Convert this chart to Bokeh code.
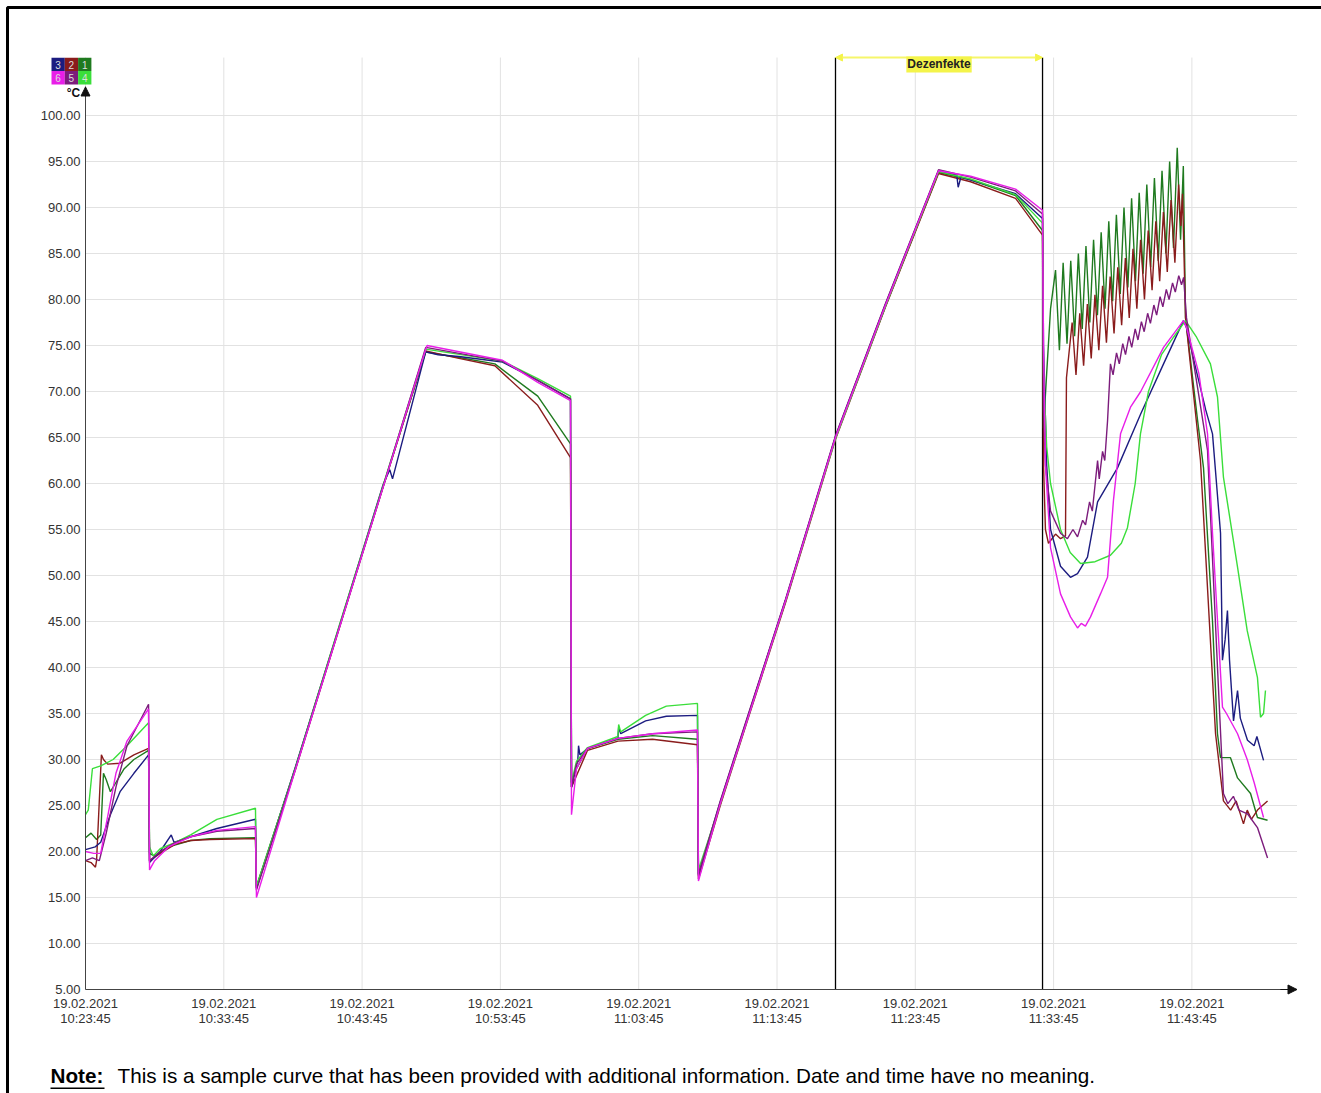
from bokeh.plotting import figure
from bokeh.models import (Range1d, FixedTicker, PrintfTickFormatter, Label,
                          BoxAnnotation, Arrow, NormalHead)
from bokeh.embed import file_html
from bokeh.resources import INLINE

# ---------------- data (x = minutes after 19.02.2021 10:23:45, y = °C) ----------------
x_ticks = [0, 10, 20, 30, 40, 50, 60, 70, 80]
x_tick_labels = ["19.02.2021\n10:23:45", "19.02.2021\n10:33:45", "19.02.2021\n10:43:45",
                 "19.02.2021\n10:53:45", "19.02.2021\n11:03:45", "19.02.2021\n11:13:45",
                 "19.02.2021\n11:23:45", "19.02.2021\n11:33:45", "19.02.2021\n11:43:45"]
y_ticks = [5, 10, 15, 20, 25, 30, 35, 40, 45, 50, 55, 60, 65, 70, 75, 80, 85, 90, 95, 100]

marker_start = 54.23
marker_end = 69.20
marker_text = "Dezenfekte"

channel_names = ["1", "2", "3", "4", "5", "6"]
channel_colors = ["#1f7a1f", "#8a1c1c", "#1c1c80", "#3ade3a", "#7c1c7c", "#e81ee8"]

ch1_t = [0, 0.4, 0.8, 1.1, 1.3, 1.5, 1.8, 2.2, 2.8, 3.5, 4.56, 4.63, 5.0, 6.0, 7.6, 9.0, 12.29, 12.36,
         15.2, 18.5, 21.5, 24.6, 27.0, 29.6, 32.7, 35.07, 35.14, 35.5, 36.3, 38.5, 41.0, 44.25, 44.32,
         45.9, 47.9, 50.61, 54.23, 57.85, 61.68, 64.0, 67.25, 69.2, 69.27, 69.5, 69.78,
         70.14, 70.42, 70.69, 70.97, 71.24, 71.52, 71.79, 72.07, 72.34, 72.62, 72.89, 73.17, 73.44,
         73.72, 73.99, 74.27, 74.54, 74.82, 75.09, 75.37, 75.64, 75.92, 76.19, 76.47, 76.74, 77.02,
         77.29, 77.57, 77.84, 78.12, 78.39, 78.67, 78.94, 79.18, 79.38,
         79.54, 80.4, 80.84, 81.49, 81.85, 82.07, 82.79, 83.3, 84.24, 84.74, 85.47]
ch1_v = [21.5, 22, 21.3, 21.8, 28.5, 27.8, 26.5, 27.5, 29, 30, 31.0, 19.8, 19.5, 20.5, 21.2, 21.4, 21.5, 16.2,
         29.2, 45.1, 59.6, 74.3, 73.7, 73.0, 69.5, 64.3, 27.5, 29, 31.2, 32.2, 32.6, 32.2, 17.3,
         25.2, 34.6, 47.2, 65.0, 79.3, 93.8, 93.0, 91.3, 87.5, 66, 72, 79,
         83.2, 74.5, 84.0, 75.2, 84.2, 76.0, 85.0, 76.8, 85.8, 77.5, 86.5, 78.3, 87.3,
         79.0, 88.5, 79.8, 89.2, 80.6, 90.0, 81.3, 91.0, 82.0, 91.6, 82.8, 92.5, 83.5,
         93.2, 84.2, 94.0, 85.0, 95.0, 85.6, 96.5, 86.5, 94.5,
         78, 67, 61.7, 45, 32.8, 30.2, 30.2, 28, 26.3, 23.7, 23.4]

ch2_t = [0, 0.4, 0.72, 0.8, 1.15, 1.3, 1.6, 2.5, 3.5, 4.56, 4.63, 5.4, 6.5, 7.6, 9.0, 12.29, 12.36,
         15.2, 18.5, 21.5, 24.6, 27.0, 29.6, 32.7, 35.07, 35.14, 36.3, 38.5, 41.0, 44.25, 44.32,
         45.9, 47.9, 50.61, 54.23, 57.85, 61.68, 64.0, 67.25, 69.2, 69.27, 69.41, 69.63, 70.14, 70.5,
         70.86, 70.93,
         71.34, 71.62, 71.89, 72.17, 72.44, 72.72, 72.99, 73.27, 73.54, 73.82, 74.09, 74.37, 74.64,
         74.92, 75.19, 75.47, 75.74, 76.02, 76.29, 76.57, 76.84, 77.12, 77.39, 77.67, 77.94, 78.22,
         78.49, 78.77, 79.04, 79.2, 79.32,
         79.54, 80.62, 81.71, 82.28, 82.8, 83.2, 83.73, 84.0, 84.3, 84.74, 85.47]
ch2_v = [19, 18.8, 18.3, 19, 30.5, 30, 29.5, 29.6, 30.5, 31.2, 19.0, 19.8, 20.8, 21.2, 21.3, 21.4, 16.0,
         29.0, 45.0, 59.5, 74.4, 73.6, 72.8, 68.5, 62.8, 27.0, 31.0, 32.0, 32.2, 31.6, 17.0,
         25.0, 34.4, 47.0, 64.8, 79.2, 93.7, 92.8, 91.0, 87.0, 62, 55, 53.5, 54.5, 54,
         54.3, 71.5,
         77.5, 71.8, 78.5, 72.8, 79.5, 73.6, 80.5, 74.5, 81.5, 75.3, 82.5, 76.3, 83.5,
         77.2, 84.5, 78.0, 85.5, 79.0, 86.5, 80.0, 87.5, 81.0, 88.5, 82.0, 89.5, 83.0,
         90.8, 84.0, 92.5, 88.0, 91.5,
         78, 62.5, 32.8, 25.5, 24.5, 25.5, 23.0, 24.5, 23.5, 24.5, 25.5]

ch3_t = [0, 0.7, 1.1, 1.8, 2.5, 3.5, 4.56, 4.63, 5.4, 6.2, 6.4, 7.6, 9.5, 12.29, 12.36,
         15.2, 18.5, 21.5, 22.0, 22.2, 24.6, 25.5, 27.0, 30.15, 32.7, 35.07, 35.14, 35.6, 35.65, 35.75,
         36.3, 38.5, 38.55, 38.7, 40.5, 42.0, 44.25, 44.32, 45.9, 47.9, 50.61, 54.23, 57.85, 61.68,
         63.0, 63.1, 63.3, 67.25, 69.2, 69.27, 69.5, 69.78, 70.5, 71.22, 71.73, 72.45, 73.18, 74.62,
         76.28, 77.95, 79.39, 79.6, 80.2, 81.0, 81.49, 82.07, 82.21, 82.4, 82.57, 82.72, 83.01, 83.3,
         83.5, 84.02, 84.5, 84.7, 85.18]
ch3_v = [20.2, 20.5, 21, 24, 26.5, 28.5, 30.5, 18.8, 20, 21.8, 21, 21.6, 22.5, 23.5, 16,
         29.3, 45.2, 59.8, 61.5, 60.5, 74.3, 74.0, 73.8, 73.2, 71.2, 69.2, 27.0, 30, 31.5, 30.5,
         31.2, 32.3, 33.5, 32.8, 34.2, 34.7, 34.8, 17.5, 25.4, 34.7, 47.3, 65.1, 79.5, 94.0,
         93.5, 92.2, 93.3, 91.5, 88.8, 75, 62, 55, 51, 49.8, 50.2, 52, 58, 61.7,
         67.5, 73, 77.7, 77, 73, 68, 65.4, 54.6, 40.8, 43, 46.2, 40.8, 34.2, 37.5,
         34.5, 32.1, 31.5, 32.5, 29.9]

ch4_t = [0, 0.2, 0.5, 1.1, 2.0, 3.0, 4.56, 4.63, 4.9, 5.4, 6.5, 7.6, 9.5, 12.29, 12.36,
         15.2, 18.5, 21.5, 24.6, 30.15, 32.7, 35.07, 35.14, 35.5, 36.3, 38.5, 38.55, 38.7, 40.5, 42.0,
         44.25, 44.32, 45.9, 47.9, 50.61, 54.23, 57.85, 61.68, 64.0, 67.25, 69.2, 69.27, 69.5, 69.78,
         70.5, 71.2, 71.95, 73.0, 74.11, 74.9, 75.34, 75.9, 76.28, 76.86, 77.8, 78.67, 79.54, 80.3,
         81.34, 81.85, 82.28, 83.3, 84.0, 84.74, 84.96, 85.18, 85.32]
ch4_v = [24, 24.5, 29, 29.3, 30, 31.5, 34, 20.5, 19.5, 20.3, 21, 21.8, 23.5, 24.7, 16.2,
         29.2, 45.3, 59.7, 74.6, 73.3, 71.4, 69.5, 27.5, 29.8, 31.3, 32.5, 33.8, 33, 34.8, 35.8,
         36.1, 18, 25.2, 34.6, 47.2, 64.9, 79.3, 93.9, 93.1, 91.4, 88.3, 72, 64, 60,
         55, 52.5, 51.3, 51.5, 52.2, 53.5, 55.2, 60, 65.4, 70, 74, 75.9, 77.7, 76,
         73, 69.4, 60.7, 50.9, 44, 38.9, 34.6, 35, 37.5]

ch5_t = [0, 0.5, 1.0, 1.5, 2.2, 3.0, 4.56, 4.63, 5.4, 6.5, 7.6, 9.5, 12.29, 12.36,
         15.2, 18.5, 21.5, 24.6, 30.15, 32.7, 35.07, 35.14, 35.5, 36.3, 38.5, 41.0, 44.25, 44.32,
         45.9, 47.9, 50.61, 54.23, 57.85, 61.68, 64.0, 67.25, 69.2, 69.27, 69.41, 69.78, 70.5, 71.0,
         71.4, 71.73, 72.1, 72.31, 72.6, 72.8, 73.18, 73.3, 73.54, 73.7, 73.9,
         74.11, 74.3, 74.55, 74.75, 75.0, 75.2, 75.45, 75.65, 75.9, 76.1, 76.35, 76.55, 76.8, 77.0,
         77.25, 77.45, 77.7, 77.9, 78.15, 78.35, 78.6, 78.8, 79.05, 79.25, 79.4,
         79.61, 81.13, 81.85, 82.28, 82.6, 83.0, 83.4, 84.02, 84.74, 85.47]
ch5_v = [19, 19.3, 19, 22, 27, 31.5, 36, 19, 20, 21, 21.6, 22.2, 22.5, 15.8,
         29.1, 45.1, 59.6, 74.8, 73.3, 71.2, 69.2, 27.0, 29.5, 31.2, 32.3, 32.8, 33.0, 17.5,
         25.5, 34.8, 47.4, 65.2, 79.6, 94.1, 93.3, 91.8, 89.3, 68, 62, 57, 54.6, 54,
         55, 54.2, 56, 55.5, 58, 57, 62.5, 60.5, 63.5, 62.5, 66.8,
         73.0, 71.8, 74.2, 73.0, 75.2, 74.0, 76.0, 74.8, 76.8, 75.6, 77.6, 76.5, 78.5, 77.4,
         79.4, 78.3, 80.3, 79.2, 81.1, 80.0, 81.8, 80.8, 82.6, 81.6, 82.4,
         78, 63.6, 40, 26.3, 25.2, 26, 24.5, 24.1, 22.6, 19.3]

ch6_t = [0, 0.6, 1.1, 1.5, 2.2, 3.0, 4.56, 4.63, 5.0, 6.0, 7.6, 9.5, 12.29, 12.36,
         15.2, 18.5, 21.5, 24.6, 24.7, 30.15, 32.7, 35.07, 35.14, 35.5, 36.3, 38.5, 41.0, 44.25, 44.32,
         45.9, 47.9, 50.61, 54.23, 57.85, 61.68, 64.0, 67.25, 69.2, 69.27, 69.41, 69.78, 70.5, 71.22,
         71.73, 72.0, 72.3, 72.67, 73.39, 73.9, 74.33, 74.84, 75.56, 76.3, 77.95, 79.39, 79.6, 80.5,
         81.13, 81.49, 82.21, 82.5, 83.3, 84.0, 84.5, 85.18]
ch6_v = [20, 19.8, 19.8, 23, 28.5, 32, 35.5, 18.0, 19, 20.5, 21.6, 22.3, 22.7, 15.0,
         29.0, 45.0, 59.5, 74.6, 75.0, 73.4, 71.0, 69.0, 24.0, 29, 31.2, 32.3, 32.8, 33.2, 16.8,
         25.2, 34.5, 47.2, 65.0, 79.4, 94.0, 93.4, 92.0, 89.7, 75, 62, 53, 48, 45.5,
         44.3, 44.8, 44.5, 45.5, 48, 49.8, 58.2, 65.4, 68.3, 70, 74.8, 77.7, 77, 72,
         65.4, 54.6, 35.7, 35, 32.8, 30, 27.5, 23.7]

note_head = "Note:"
note_body = "This is a sample curve that has been provided with additional information. Date and time have no meaning."

# ---------------- figure: the frame fills the whole canvas ----------------
W, H = 1321, 1093
PX_MIN = 13.83        # pixels per minute
PX_DEG = 9.2          # pixels per °C
X0_PX, Y5_PX = 85, 989   # canvas position of (0 min, 5 °C)
x_lo = -X0_PX / PX_MIN
x_hi = (W - X0_PX) / PX_MIN
y_lo = 5 - (H - Y5_PX) / PX_DEG
y_hi = 5 + Y5_PX / PX_DEG
X_END = 87.6          # end of the x axis (arrow tip)
Y_TOP = 106.3         # top of grid / marker lines
Y_AX_END = 103.1      # tip of y axis arrow

FONT = "Liberation Sans"
p = figure(width=W, height=H, output_backend="svg", toolbar_location=None,
           x_range=Range1d(x_lo, x_hi), y_range=Range1d(y_lo, y_hi), min_border=0)
p.title.visible = False
p.background_fill_color = "white"
p.border_fill_color = "white"
p.outline_line_color = None
p.grid.visible = False

# grid lines
p.segment(x0=x_ticks, y0=[5] * len(x_ticks), x1=x_ticks, y1=[Y_TOP] * len(x_ticks),
          line_color="#e2e2e2", line_width=1)
p.segment(x0=[0] * len(y_ticks), y0=y_ticks, x1=[X_END] * len(y_ticks), y1=y_ticks,
          line_color="#e2e2e2", line_width=1)

# axes placed at fixed data locations
p.xaxis.fixed_location = 5
p.yaxis.fixed_location = 0
p.xaxis.ticker = FixedTicker(ticks=x_ticks)
p.xaxis.major_label_overrides = dict(zip(x_ticks, x_tick_labels))
p.yaxis.ticker = FixedTicker(ticks=y_ticks)
p.yaxis.formatter = PrintfTickFormatter(format="%.2f")
for ax in (p.xaxis, p.yaxis):
    ax.axis_line_color = "#444444"
    ax.axis_line_width = 1
    ax.major_tick_line_color = None
    ax.minor_tick_line_color = None
    ax.major_tick_out = 0
    ax.major_tick_in = 0
    ax.minor_tick_out = 0
    ax.major_label_text_font = FONT
    ax.major_label_text_font_size = "13px"
    ax.major_label_text_color = "#333333"
p.xaxis.major_label_text_line_height = 1.0
p.yaxis.major_label_standoff = 5
p.xaxis.major_label_standoff = 6
p.yaxis.bounds = (5, Y_AX_END)
p.xaxis.bounds = (0, X_END - 0.5)

# axis arrows
p.add_layout(Arrow(end=NormalHead(size=9, fill_color="#111111", line_color="#111111"),
                   x_start=0, y_start=Y_AX_END - 1.0, x_end=0, y_end=Y_AX_END,
                   line_color="#111111", line_width=1.5))
p.add_layout(Arrow(end=NormalHead(size=9, fill_color="#111111", line_color="#111111"),
                   x_start=X_END - 1.2, y_start=5, x_end=X_END, y_end=5,
                   line_color="#111111", line_width=1))

# marker lines
p.segment(x0=[marker_start, marker_end], y0=[5, 5], x1=[marker_start, marker_end],
          y1=[Y_TOP, Y_TOP], line_color="black", line_width=1.3)

series = [(ch1_t, ch1_v), (ch2_t, ch2_v), (ch3_t, ch3_v), (ch4_t, ch4_v), (ch5_t, ch5_v), (ch6_t, ch6_v)]
for (t, v), c in zip(series, channel_colors):
    p.line(t, v, line_color=c, line_width=1.4)

# Dezenfekte bar
p.add_layout(Arrow(start=NormalHead(size=7, fill_color="#f4f44a", line_color="#f4f44a"),
                   end=NormalHead(size=7, fill_color="#f4f44a", line_color="#f4f44a"),
                   x_start=marker_start, y_start=Y_TOP, x_end=marker_end, y_end=Y_TOP,
                   line_color="#f6f66a", line_width=2))
p.add_layout(Label(x=(marker_start + marker_end) / 2, y=105.55, text=marker_text,
                   text_align="center", text_baseline="middle", text_font=FONT,
                   text_font_size="12px", text_font_style="bold", text_color="#222222",
                   background_fill_color="#f4f44a", padding=1))

# channel legend box (canvas pixels)
cell_order = [(2, 0, 0), (1, 1, 0), (0, 2, 0), (5, 0, 1), (4, 1, 1), (3, 2, 1)]
for idx, col, row in cell_order:
    l = 51 + col * 13.3
    tp = 57.3 + row * 13.3
    p.add_layout(BoxAnnotation(left=l, right=l + 13.3, top=tp, bottom=tp + 13.3,
                               left_units="canvas", right_units="canvas",
                               top_units="canvas", bottom_units="canvas",
                               fill_color=channel_colors[idx], fill_alpha=1, line_color=None))
    p.add_layout(Label(x=l + 6.6, y=tp + 6.8, x_units="canvas", y_units="canvas",
                       text=channel_names[idx], text_align="center", text_baseline="middle",
                       text_font=FONT, text_font_size="10px", text_color="#dddddd"))
p.add_layout(Label(x=73, y=92, x_units="canvas", y_units="canvas", text="°C",
                   text_align="center", text_baseline="middle", text_font=FONT,
                   text_font_size="12px", text_font_style="bold", text_color="#111111"))

# outer frame
p.add_layout(BoxAnnotation(left=7, right=1400, top=7, bottom=1300,
                           left_units="canvas", right_units="canvas",
                           top_units="canvas", bottom_units="canvas",
                           fill_alpha=0, line_color="black", line_alpha=1, line_width=3))

# note
p.add_layout(Label(x=50, y=1075, x_units="canvas", y_units="canvas", text=note_head,
                   text_align="left", text_baseline="alphabetic", text_font=FONT,
                   text_font_size="20.7px", text_font_style="bold", text_color="#000000"))
p.add_layout(BoxAnnotation(left=50, right=104, top=1087, bottom=1088.5,
                           left_units="canvas", right_units="canvas",
                           top_units="canvas", bottom_units="canvas",
                           fill_color="black", fill_alpha=1, line_color=None))
p.add_layout(Label(x=117, y=1075, x_units="canvas", y_units="canvas", text=note_body,
                   text_align="left", text_baseline="alphabetic", text_font=FONT,
                   text_font_size="20.7px", text_color="#000000"))

open("out.html", "w").write(file_html(p, INLINE))
